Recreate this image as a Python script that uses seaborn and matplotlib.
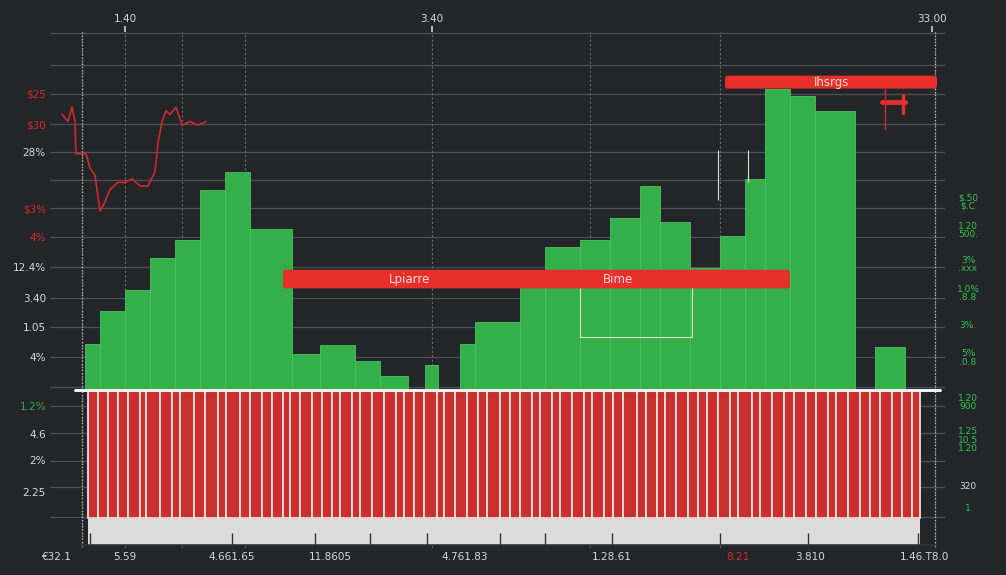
import numpy as np
import pandas as pd
import seaborn as sns
import matplotlib.pyplot as plt
from matplotlib.patches import FancyBboxPatch, Rectangle

sns.set_theme(style="dark")
plt.rcParams['font.family'] = ['DejaVu Sans']

BG = "#242529"
GREEN = "#33b04a"
GREEN_EDGE = "#4cc25f"
RED = "#c92f2c"
RED_BAR = "#e8302a"
TXT = "#d8d8d8"

# ---------------- data ----------------
# green step bars (bin edges along the time axis, heights above baseline)
green_edges = [85, 100, 125, 150, 175, 200, 225, 250, 292, 320, 355, 380, 408,
               425, 438, 460, 475, 520, 545, 580, 610, 640, 660, 690, 720, 745,
               765, 790, 815, 855, 875, 905]
green_heights = [13, 22, 28, 37, 42, 56, 61, 45, 10, 12.5, 8, 4, 0,
                 7, 0, 13, 19, 33.5, 40, 42, 48, 57, 47, 34, 43, 59,
                 84, 82, 78, 0, 12]

# red lower stripes (edges of each red slat, depth below baseline)
stripe_edges = [88, 98, 108, 118, 128, 140, 146, 160, 172, 180, 194, 205, 218,
                226, 240, 250, 262, 272, 283, 290, 300, 312, 322, 332, 340, 352,
                360, 372, 384, 396, 404, 414, 424, 437, 444, 455, 467, 478, 487,
                500, 510, 520, 532, 540, 552, 560, 572, 584, 592, 604, 613, 623,
                637, 646, 657, 665, 676, 688, 698, 707, 718, 730, 738, 752, 760,
                772, 784, 794, 806, 816, 828, 836, 848, 860, 870, 880, 892, 902,
                912, 920]
stripe_depth = -35.75

# red price line (top left)
line_x = [62, 68, 72, 75, 76, 80, 86, 90, 95, 100, 104, 110, 118, 125, 132, 140, 148,
          155, 158, 162, 166, 170, 176, 182, 190, 198, 206]
line_y = [77, 75, 79, 75, 66, 66, 66, 62, 60, 50, 52, 56, 58, 58, 59, 57, 57,
          61, 69, 75, 78, 77, 79, 74, 75, 74, 75]

# gray band tick marks
band_ticks = [90, 232, 315, 370, 427, 500, 545, 612, 720, 808, 918]

# labels
left_ticks = [82.7, 74.3, 66.5, 50.8, 42.7, 34.4, 25.7, 17.6, 9.2, -4.5, -12.3, -19.6, -28.5]
left_labels = ["$25", "$30", "28%", "$3%", "4%", "12.4%", "3.40", "1.05", "4%",
               "1.2%", "4.6", "2%", "2.25"]
left_colors = ["#d62a2a", "#d62a2a", TXT, "#d62a2a", "#d62a2a", TXT, TXT, TXT, TXT,
               "#2ea84a", TXT, TXT, TXT]

grid_y = [99.7, 90.8, 82.7, 74.3, 66.5, 58.7, 50.8, 42.7, 34.4, 25.7, 17.6, 9.2,
          0.8, -4.5, -12, -19.8, -27, -35.5]

bottom_ticks = [57, 125, 232, 330, 465, 612, 738, 810, 925]
bottom_labels = ["€32.1", "5.59", "4.661.65", "11.8605", "4.761.83", "1.28.61",
                 "8.21", "3.810", "1.46.T8.0"]
bottom_colors = [TXT, TXT, TXT, TXT, TXT, TXT, "#d62a2a", TXT, TXT]

top_ticks = [125, 432, 932]
top_labels = ["1.40", "3.40", "33.00"]

vgrid_x = [82, 125, 182, 245, 432, 590, 720, 935]

right_y = [52.5, 44.5, 35, 27, 18, 9, -3.5, -14, -27, -33]
right_labels = ["$.50\n$.C", "1.20\n500.", "3%\n.xxx", "1.0%\n.8.8", "3%.",
                "5%\n.0.8", "1.20\n900", "1.25\n10.5\n1.20", "320", "1"]
right_colors = ["#2fc44e"] * 8 + [TXT, "#2fc44e"]

red_bars = pd.DataFrame({
    "start": [283, 725],
    "end": [790, 937],
    "y": [31.0, 86.0],
    "h": [5.2, 3.6],
})
bar_texts = [(410, 31.0, "Lpiarre"), (618, 31.0, "Bime"), (832, 86.0, "Ihsrgs")]

# ---------------- figure ----------------
fig = plt.figure(figsize=(10.06, 5.75), dpi=100, facecolor=BG)
ax = fig.add_axes([50 / 1006, 27 / 575, 895 / 1006, 516 / 575])
ax.set_facecolor(BG)

YTOP, YBOT = 100.0, -44.1
XL, XR = 50, 945

# grid
for g in grid_y:
    ax.axhline(g, color="#4e5055", lw=0.9, zorder=0)
for v in vgrid_x:
    ax.axvline(v, color="#6a6c70", lw=0.8, ls=(0, (2, 2)), zorder=0)

# green bars
sns.histplot(x=green_edges[:-1], weights=green_heights, bins=green_edges,
             color=GREEN, alpha=1.0, edgecolor=GREEN_EDGE, linewidth=0.6,
             ax=ax, zorder=2)

# red lower slats
sns.histplot(x=stripe_edges[:-1], weights=[stripe_depth] * (len(stripe_edges) - 1),
             bins=stripe_edges, color=RED, alpha=1.0, edgecolor="#f2dede",
             linewidth=1.3, ax=ax, zorder=2)

# gray band
ax.fill_between([88, 920], -35.9, -43.3, color="#dcdcdc", zorder=2, lw=0)
ax.vlines(band_ticks, -43.3, -40.0, color="#333333", lw=1.0, zorder=3)
ax.plot([80, 935], [-43.3, -43.3], color="#333333", lw=1.2, zorder=3)

# baseline
ax.plot([75, 940], [0, 0], color="#f0f0f0", lw=2.2, zorder=4)

# red price line
sns.lineplot(x=line_x, y=line_y, sort=False, color="#d0282a", lw=1.2, ax=ax,
             zorder=3, estimator=None)

# thin box and marks
ax.add_patch(Rectangle((580, 14.8), 112, 15.0, fill=False, ec="#d8e8d8", lw=0.8, zorder=4))
ax.vlines([718, 748], [53, 58], [67, 67], color="#cfe8cf", lw=0.8, zorder=4)

# red bars with labels
for _, r in red_bars.iterrows():
    h = r["h"]
    ax.add_patch(FancyBboxPatch((r["start"], r["y"] - h / 2), r["end"] - r["start"], h,
                                boxstyle="round,pad=0,rounding_size=2",
                                fc=RED_BAR, ec="none", zorder=5,
                                mutation_aspect=0.5))
for x, y, t in bar_texts:
    ax.text(x, y, t, color="#f6dcdc", fontsize=8.5, ha="center", va="center", zorder=6)

# small red T marker
ax.plot([882, 905], [80.4, 80.4], color="#e0302a", lw=3.5, zorder=5)
ax.plot([903, 903], [77.5, 82.5], color="#e0302a", lw=2.5, zorder=5)
ax.plot([885, 885], [73, 84], color="#d02a2a", lw=1.0, zorder=5)

# axes lines
ax.plot([82, 82], [YTOP, YBOT], color="#bdbdbd", lw=0.9, ls=(0, (1, 1.5)), zorder=1)
ax.plot([935, 935], [YTOP, YBOT], color="#bdbdbd", lw=0.9, ls=(0, (1, 1.5)), zorder=1)

ax.set_xlim(XL, XR)
ax.set_ylim(YBOT, YTOP)
for s in ax.spines.values():
    s.set_visible(False)
ax.set_xlabel("")
ax.set_ylabel("")

# left ticks
ax.set_yticks(left_ticks)
ax.set_yticklabels(left_labels, fontsize=7.5)
for lab, c in zip(ax.get_yticklabels(), left_colors):
    lab.set_color(c)
ax.tick_params(axis="y", length=0, pad=3)

# bottom ticks
ax.set_xticks(bottom_ticks)
ax.set_xticklabels(bottom_labels, fontsize=7.5)
for lab, c in zip(ax.get_xticklabels(), bottom_colors):
    lab.set_color(c)
ax.tick_params(axis="x", length=0, pad=3)

# top ticks
sec = ax.secondary_xaxis("top")
sec.set_xticks(top_ticks)
sec.set_xticklabels(top_labels, fontsize=7.5, color=TXT)
sec.tick_params(length=4, color="#cccccc", pad=2)
for s in sec.spines.values():
    s.set_visible(False)

# right labels
for y, t, c in zip(right_y, right_labels, right_colors):
    ax.text(968, y, t, color=c, fontsize=6.5, ha="center", va="center",
            clip_on=False, linespacing=0.9)

fig.savefig("out.png", dpi=100, facecolor=BG)
